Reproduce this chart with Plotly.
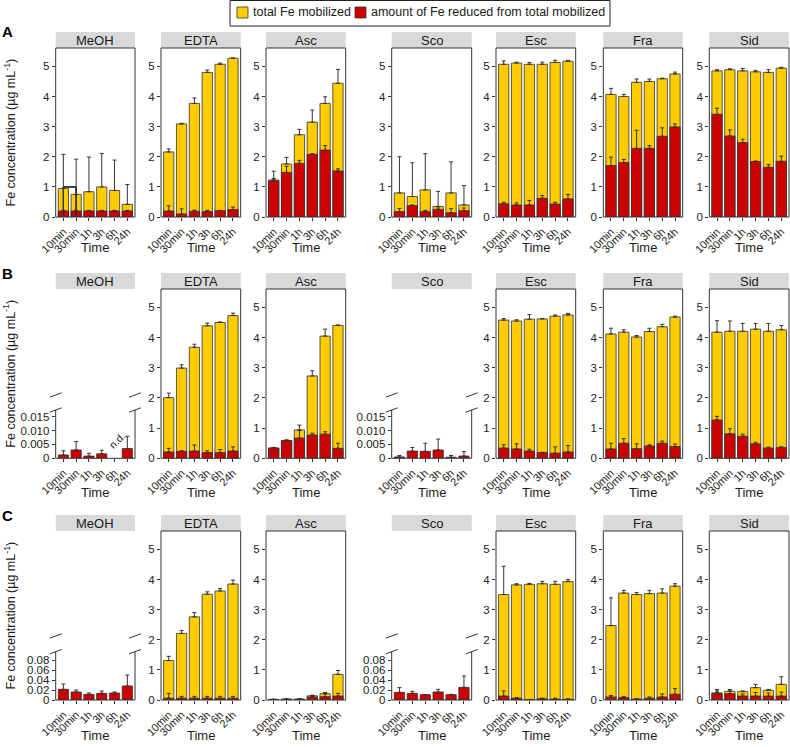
import plotly.graph_objects as go

times = ["10min", "30min", "1h", "3h", "6h", "24h"]
treatments = ["MeOH", "EDTA", "Asc", "Sco", "Esc", "Fra", "Sid"]

# ---- panel A ----
A_total = {
    "MeOH": [0.95, 0.75, 0.84, 1.0, 0.88, 0.42],
    "EDTA": [2.16, 3.09, 3.77, 4.8, 5.07, 5.27],
    "Asc": [1.23, 1.76, 2.73, 3.15, 3.77, 4.44],
    "Sco": [0.8, 0.68, 0.9, 0.35, 0.8, 0.4],
    "Esc": [5.07, 5.11, 5.07, 5.07, 5.13, 5.17],
    "Fra": [4.07, 4.0, 4.47, 4.5, 4.59, 4.75],
    "Sid": [4.85, 4.89, 4.85, 4.82, 4.8, 4.94],
}
A_total_sd = {
    "MeOH": [1.13, 1.17, 1.15, 1.11, 1.01, 0.66],
    "EDTA": [0.1, 0.02, 0.18, 0.08, 0.04, 0.01],
    "Asc": [0.29, 0.22, 0.18, 0.4, 0.22, 0.46],
    "Sco": [1.2, 1.12, 1.2, 0.5, 1.03, 0.64],
    "Esc": [0.11, 0.03, 0.06, 0.07, 0.07, 0.03],
    "Fra": [0.2, 0.07, 0.11, 0.08, 0.02, 0.06],
    "Sid": [0.04, 0.03, 0.08, 0.05, 0.09, 0.03],
}
A_red = {
    "MeOH": [0.2, 0.2, 0.2, 0.2, 0.2, 0.2],
    "EDTA": [0.2, 0.1, 0.19, 0.18, 0.21, 0.25],
    "Asc": [1.2, 1.48, 1.78, 2.08, 2.22, 1.53],
    "Sco": [0.18, 0.38, 0.18, 0.25, 0.14, 0.21],
    "Esc": [0.44, 0.4, 0.4, 0.62, 0.43, 0.6],
    "Fra": [1.71, 1.81, 2.28, 2.28, 2.68, 2.99],
    "Sid": [3.41, 2.69, 2.47, 1.84, 1.65, 1.85],
}
A_red_sd = {
    "MeOH": [0.02, 0.02, 0.02, 0.02, 0.02, 0.02],
    "EDTA": [0.17, 0.17, 0.04, 0.04, 0.01, 0.08],
    "Asc": [0.08, 0.2, 0.1, 0.02, 0.15, 0.07],
    "Sco": [0.1, 0.02, 0.04, 0.05, 0.14, 0.09],
    "Esc": [0.05, 0.07, 0.15, 0.09, 0.06, 0.15],
    "Fra": [0.28, 0.1, 0.6, 0.09, 0.28, 0.1],
    "Sid": [0.2, 0.2, 0.11, 0.02, 0.09, 0.17],
}

# ---- panel B ----
B_total = {
    "MeOH": None,
    "EDTA": [2.01, 2.99, 3.68, 4.39, 4.5, 4.73],
    "Asc": [0.34, 0.59, 0.94, 2.73, 4.05, 4.4],
    "Sco": None,
    "Esc": [4.58, 4.55, 4.61, 4.62, 4.71, 4.75],
    "Fra": [4.12, 4.18, 4.02, 4.2, 4.36, 4.68],
    "Sid": [4.18, 4.21, 4.21, 4.28, 4.21, 4.26],
}
B_total_sd = {
    "MeOH": None,
    "EDTA": [0.15, 0.11, 0.1, 0.09, 0.02, 0.08],
    "Asc": [0.02, 0.02, 0.16, 0.17, 0.23, 0.02],
    "Sco": None,
    "Esc": [0.05, 0.04, 0.15, 0.01, 0.04, 0.05],
    "Fra": [0.19, 0.08, 0.05, 0.11, 0.08, 0.03],
    "Sid": [0.38, 0.34, 0.26, 0.19, 0.26, 0.14],
}
B_red = {
    "MeOH": [0.0012, 0.003, 0.0008, 0.0016, None, 0.0035],
    "EDTA": [0.21, 0.23, 0.24, 0.19, 0.19, 0.24],
    "Asc": [0.34, 0.58, 0.67, 0.77, 0.8, 0.33],
    "Sco": [0.0005, 0.0026, 0.0025, 0.003, 0.0004, 0.0008],
    "Esc": [0.34, 0.31, 0.24, 0.19, 0.17, 0.21],
    "Fra": [0.31, 0.5, 0.32, 0.41, 0.5, 0.39],
    "Sid": [1.27, 0.81, 0.73, 0.48, 0.34, 0.36],
}
B_red_sd = {
    "MeOH": [0.0015, 0.003, 0.001, 0.0013, 0, 0.0044],
    "EDTA": [0.12, 0.02, 0.2, 0.06, 0.1, 0.14],
    "Asc": [0.02, 0.02, 0.25, 0.06, 0.08, 0.17],
    "Sco": [0.0005, 0.0013, 0.0029, 0.0039, 0.0006, 0.0016],
    "Esc": [0.11, 0.17, 0.06, 0.01, 0.21, 0.21],
    "Fra": [0.19, 0.15, 0.16, 0.04, 0.07, 0.08],
    "Sid": [0.12, 0.17, 0.07, 0.05, 0.03, 0.02],
}

# ---- panel C ----
C_total = {
    "MeOH": None,
    "EDTA": [1.31, 2.21, 2.76, 3.51, 3.62, 3.85],
    "Asc": [0.02, 0.03, 0.03, 0.14, 0.21, 0.85],
    "Sco": None,
    "Esc": [3.5, 3.82, 3.84, 3.86, 3.84, 3.93],
    "Fra": [2.47, 3.55, 3.5, 3.53, 3.55, 3.78],
    "Sid": [0.24, 0.29, 0.28, 0.41, 0.32, 0.52],
}
C_total_sd = {
    "MeOH": None,
    "EDTA": [0.14, 0.1, 0.14, 0.08, 0.08, 0.13],
    "Asc": [0.01, 0.01, 0.01, 0.02, 0.04, 0.13],
    "Sco": None,
    "Esc": [0.94, 0.04, 0.03, 0.08, 0.1, 0.07],
    "Fra": [0.92, 0.09, 0.07, 0.11, 0.14, 0.08],
    "Sid": [0.11, 0.06, 0.02, 0.11, 0.03, 0.25],
}
C_red = {
    "MeOH": [0.0213, 0.016, 0.0113, 0.0133, 0.014, 0.028],
    "EDTA": [0.06, 0.06, 0.06, 0.06, 0.06, 0.06],
    "Asc": [0.015, 0.025, 0.025, 0.1, 0.11, 0.13],
    "Sco": [0.0153, 0.0133, 0.0107, 0.016, 0.0107, 0.0253],
    "Esc": [0.13, 0.06, 0.01, 0.04, 0.03, 0.02],
    "Fra": [0.1, 0.08, 0.03, 0.06, 0.1, 0.19],
    "Sid": [0.21, 0.21, 0.13, 0.13, 0.13, 0.13],
}
C_red_sd = {
    "MeOH": [0.0107, 0.004, 0.0027, 0.0047, 0.002, 0.022],
    "EDTA": [0.16, 0.06, 0.06, 0.06, 0.06, 0.06],
    "Asc": [0.005, 0.005, 0.005, 0.02, 0.09, 0.09],
    "Sco": [0.0094, 0.004, 0.0003, 0.0053, 0.0006, 0.0227],
    "Esc": [0.17, 0.02, 0.01, 0.02, 0.03, 0.02],
    "Fra": [0.05, 0.04, 0.01, 0.04, 0.1, 0.19],
    "Sid": [0.09, 0.09, 0.07, 0.12, 0.1, 0.13],
}

rows = {
    "A": (A_total, A_total_sd, A_red, A_red_sd),
    "B": (B_total, B_total_sd, B_red, B_red_sd),
    "C": (C_total, C_total_sd, C_red, C_red_sd),
}

B_low_ticks = [0, 0.005, 0.010, 0.015]
B_low_labels = ["0", "0.005", "0.010", "0.015"]
C_low_ticks = [0, 0.02, 0.04, 0.06, 0.08]
C_low_labels = ["0", "0.02", "0.04", "0.06", "0.08"]
legend_labels = ["total Fe mobilized", "amount of Fe reduced from total mobilized"]

YELLOW = "#FFCC00"
RED = "#CC0000"
EDGE = "#333333"
FONT = "Liberation Sans, Arial, sans-serif"
W, H = 790, 747

# layout in pixels
col_px = [(55.7, 135), (161, 240.7), (266, 345.7), (391.7, 471.7),
          (496, 575.7), (603.3, 682.7), (709.3, 789)]
row_px = {"A": (48, 217), "B": (289, 458.3), "C": (531, 700)}
time_y = {"A": 247, "B": 492, "C": 735}
# broken axes: upper px, upper range, lower px, lower range, ticks
broken = {
    "B": dict(up=(289, 395), up_rng=[0.605, 5.65], lo=(410, 458.3), lo_rng=[0, 0.01737],
              ticks=B_low_ticks, labels=B_low_labels),
    "C": dict(up=(531, 636), up_rng=[0.633, 5.63], lo=(651.7, 700), lo_rng=[0, 0.0966],
              ticks=C_low_ticks, labels=C_low_labels),
}


def px_x(v):
    return v / W


def px_y(v):
    return 1 - v / H


fig = go.Figure()
layout = {}
shapes = []
annotations = []
n = 0


def text(x, y, s, size, **kw):
    d = dict(x=px_x(x), y=px_y(y), xref="paper", yref="paper", text=s, showarrow=False,
             xanchor="center", yanchor="middle", font=dict(size=size, color="#1a1a1a"))
    d.update(kw)
    annotations.append(d)


def new_axes(xdom, ydom, yrng, yticks, ylabels, show_x=True):
    global n
    n += 1
    sx = "" if n == 1 else str(n)
    layout["xaxis" + sx] = dict(
        domain=[px_x(xdom[0]), px_x(xdom[1])], anchor="y" + sx, range=[-0.6, 5.6],
        tickvals=list(range(6)), ticktext=times, tickangle=-45,
        ticks="outside" if show_x else "", ticklen=3, tickcolor=EDGE,
        showticklabels=show_x, showgrid=False, zeroline=False, showline=False,
        tickfont=dict(size=11, color="#222"), fixedrange=True)
    layout["yaxis" + sx] = dict(
        domain=[px_y(ydom[1]), px_y(ydom[0])], anchor="x" + sx, range=yrng,
        tickvals=yticks, ticktext=ylabels, ticks="outside", ticklen=3, tickcolor=EDGE,
        showgrid=False, zeroline=False, showline=False,
        tickfont=dict(size=11.5, color="#222"), fixedrange=True)
    return "x" + sx, "y" + sx


def bar_pair(xa, ya, total, tsd, red, rsd):
    err = dict(color=EDGE, thickness=1, width=2)
    if total is not None:
        fig.add_trace(go.Bar(
            x=list(range(6)), y=total, xaxis=xa, yaxis=ya, width=0.8,
            marker=dict(color=YELLOW, line=dict(color=EDGE, width=0.8)),
            error_y=dict(type="data", array=tsd, arrayminus=[0] * 6, symmetric=False, **err),
            name=legend_labels[0], showlegend=False))
    fig.add_trace(go.Bar(
        x=list(range(6)), y=red, xaxis=xa, yaxis=ya, width=0.8,
        marker=dict(color=RED, line=dict(color=EDGE, width=0.8)),
        error_y=dict(type="data", array=rsd, arrayminus=[0] * 6, symmetric=False, **err),
        name=legend_labels[1], showlegend=False))


def frame(xa, ya, sides):
    xr = xa + " domain"
    yr = ya + " domain"
    pts = {"left": (0, 0, 0, 1), "right": (1, 0, 1, 1), "top": (0, 1, 1, 1), "bottom": (0, 0, 1, 0)}
    for s in sides:
        x0, y0, x1, y1 = pts[s]
        shapes.append(dict(type="line", xref=xr, yref=yr, x0=x0, y0=y0, x1=x1, y1=y1,
                           line=dict(color=EDGE, width=1)))


def slash(xc, yc):
    shapes.append(dict(type="line", xref="paper", yref="paper",
                       x0=px_x(xc - 6), y0=px_y(yc + 2.2), x1=px_x(xc + 6), y1=px_y(yc - 2.2),
                       line=dict(color=EDGE, width=1)))


def prect(x0, y0, x1, y1, fill, line_w=0, line_c=EDGE, layer="above"):
    shapes.append(dict(type="rect", xref="paper", yref="paper",
                       x0=px_x(x0), x1=px_x(x1), y0=px_y(y1), y1=px_y(y0),
                       fillcolor=fill, line=dict(width=line_w, color=line_c), layer=layer))


for r, (tot, tsd, red, rsd) in rows.items():
    top, bot = row_px[r]
    for c, t in enumerate(treatments):
        xdom = col_px[c]
        if r in broken and t in ("MeOH", "Sco"):
            b = broken[r]
            xa, ya = new_axes(xdom, b["up"], b["up_rng"], [1, 2, 3, 4, 5],
                              ["1", "2", "3", "4", "5"], show_x=False)
            frame(xa, ya, ["left", "right", "top"])
            xa, ya = new_axes(xdom, b["lo"], b["lo_rng"], b["ticks"], b["labels"])
            bar_pair(xa, ya, None, None, red[t], rsd[t])
            frame(xa, ya, ["left", "right", "bottom"])
            for xc in xdom:
                slash(xc, b["up"][1])
                slash(xc, b["lo"][0])
            if r == "B" and t == "MeOH":
                annotations.append(dict(x=4.2, y=0.0066, xref=xa, yref=ya, text="n.d.",
                                        textangle=-45, showarrow=False,
                                        xanchor="center", yanchor="middle",
                                        font=dict(size=10.5, color="#222")))
        else:
            xa, ya = new_axes(xdom, (top, bot), [0, 5.61], [0, 1, 2, 3, 4, 5],
                              ["0", "1", "2", "3", "4", "5"])
            bar_pair(xa, ya, tot[t], tsd[t], red[t], rsd[t])
            frame(xa, ya, ["left", "right", "top", "bottom"])
        # strip header
        prect(xdom[0], top - 16, xdom[1], top, "#D9D9D9", layer="below")
        text((xdom[0] + xdom[1]) / 2, top - 8, t, 13)
        text((xdom[0] + xdom[1]) / 2, time_y[r], "Time", 13)
    # row letter and y title
    text(7, top - 16, "<b>" + r + "</b>", 15, font=dict(size=15, color="black"))
    text(9, (top + bot) / 2, "Fe concentration (µg mL<sup>-1</sup>)", 12.5, textangle=-90)

# legend box drawn by hand
prect(230, 0.5, 610, 26, "white", line_w=1, line_c="#222")
prect(237, 7, 248, 18, YELLOW, line_w=0.8)
text(251, 12.5, legend_labels[0], 12.5, xanchor="left")
prect(355, 7, 366, 18, RED, line_w=0.8)
text(369, 12.5, legend_labels[1], 12.5, xanchor="left")

layout.update(
    width=W, height=H, margin=dict(l=0, r=0, t=0, b=0, autoexpand=False),
    paper_bgcolor="white", plot_bgcolor="white",
    barmode="overlay", bargap=0, showlegend=False, hovermode=False,
    font=dict(family=FONT, color="#1a1a1a"),
    shapes=shapes, annotations=annotations,
)
fig.update_layout(**layout)
fig.write_html("out.html", config={"displayModeBar": False, "staticPlot": True},
               post_script="document.body.style.margin='0';")
